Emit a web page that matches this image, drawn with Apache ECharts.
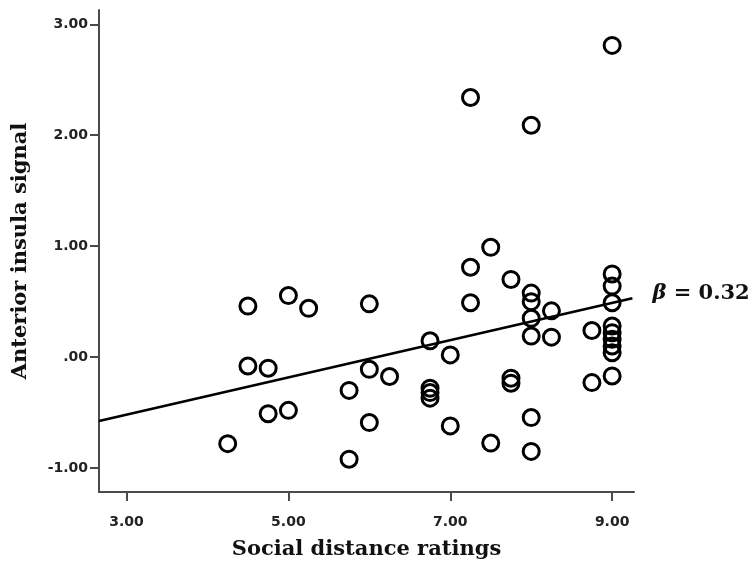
<!DOCTYPE html>
<html>
<head>
<meta charset="utf-8">
<script src="https://cdn.jsdelivr.net/npm/echarts@6/dist/echarts.min.js"></script>
<style>
  html, body { margin: 0; padding: 0; background: #fff; }
  #chart { width: 750px; height: 563px; }
</style>
</head>
<body>
<div id="chart"></div>
<script>
// data
var socialDistance = [4.25, 4.5, 4.5, 4.75, 4.75, 5.0, 5.0, 5.25, 5.75, 5.75,
  6.0, 6.0, 6.0, 6.25, 6.75, 6.75, 6.75, 6.75, 7.0, 7.0,
  7.25, 7.25, 7.25, 7.5, 7.5, 7.75, 7.75, 7.75,
  8.0, 8.0, 8.0, 8.0, 8.0, 8.0, 8.0, 8.25, 8.25, 8.75, 8.75,
  9.0, 9.0, 9.0, 9.0, 9.0, 9.0, 9.0, 9.0, 9.0, 9.0];
var insulaSignal = [-0.78, 0.46, -0.08, -0.10, -0.51, 0.555, -0.48, 0.44, -0.30, -0.92,
  0.48, -0.11, -0.59, -0.175, 0.147, -0.28, -0.32, -0.37, 0.02, -0.62,
  2.34, 0.81, 0.49, 0.99, -0.775, 0.70, -0.19, -0.235,
  2.09, 0.577, 0.50, 0.35, 0.19, -0.545, -0.85, 0.417, 0.18, 0.24, -0.23,
  2.81, 0.75, 0.64, 0.49, 0.28, 0.22, 0.16, 0.10, 0.04, -0.17];

var xTicks = [3, 5, 7, 9];
var xTickLabels = ["3.00", "5.00", "7.00", "9.00"];
var yTicks = [-1, 0, 1, 2, 3];
var yTickLabels = ["-1.00", ".00", "1.00", "2.00", "3.00"];

// fit line
var fitSlope = 0.168;
var fitIntercept = -1.023;
var fitRange = [2.66, 9.25];
var betaText = "0.32";

var points = socialDistance.map(function (x, i) { return [x, insulaSignal[i]]; });
var fitLine = fitRange.map(function (x) { return [x, fitIntercept + fitSlope * x]; });

var axisColor = "#4a4a4a";
var chart = echarts.init(document.getElementById("chart"));
chart.setOption({
  animation: false,
  grid: {
    left: 99,
    right: 116,
    top: 10,
    bottom: 71,
    containLabel: false,
    outerBoundsMode: "none"
  },
  xAxis: {
    type: "value",
    min: 2.66,
    max: 9.27,
    name: "Social distance ratings",
    nameLocation: "middle",
    nameGap: 47,
    nameTextStyle: {
      fontFamily: "DejaVu Serif",
      fontWeight: "bold",
      fontSize: 21,
      color: "#111"
    },
    axisLine: { onZero: false, lineStyle: { color: axisColor, width: 2 } },
    axisTick: {
      show: true,
      length: 9,
      customValues: xTicks,
      lineStyle: { color: axisColor, width: 2 }
    },
    axisLabel: {
      customValues: xTicks,
      margin: 23,
      fontFamily: "DejaVu Sans",
      fontWeight: "bold",
      fontSize: 14,
      color: "#222",
      formatter: function (v) { return xTickLabels[xTicks.indexOf(v)]; }
    },
    splitLine: { show: false }
  },
  yAxis: {
    type: "value",
    min: -1.216,
    max: 3.129,
    name: "Anterior insula signal",
    nameLocation: "middle",
    nameGap: 68,
    nameRotate: 90,
    nameTextStyle: {
      fontFamily: "DejaVu Serif",
      fontWeight: "bold",
      fontSize: 21,
      color: "#111"
    },
    axisLine: { show: true, onZero: false, lineStyle: { color: axisColor, width: 2 } },
    axisTick: {
      show: true,
      length: 9,
      customValues: yTicks,
      lineStyle: { color: axisColor, width: 2 }
    },
    axisLabel: {
      customValues: yTicks,
      margin: 11,
      fontFamily: "DejaVu Sans",
      fontWeight: "bold",
      fontSize: 14,
      color: "#222",
      formatter: function (v) { return yTickLabels[yTicks.indexOf(v)]; }
    },
    splitLine: { show: false }
  },
  series: [
    {
      type: "line",
      data: fitLine,
      symbol: "none",
      silent: true,
      lineStyle: { color: "#000", width: 2.5 },
      endLabel: {
        show: true,
        distance: 20,
        offset: [0, -5],
        formatter: "{b|β} = " + betaText,
        fontFamily: "DejaVu Serif",
        fontWeight: "bold",
        fontSize: 21,
        color: "#111",
        rich: {
          b: {
            fontFamily: "DejaVu Serif",
            fontStyle: "italic",
            fontWeight: "bold",
            fontSize: 21,
            color: "#111"
          }
        }
      }
    },
    {
      type: "scatter",
      data: points,
      symbol: "circle",
      symbolSize: 16,
      itemStyle: {
        color: "rgba(0,0,0,0)",
        borderColor: "#000",
        borderWidth: 3,
        opacity: 1
      }
    }
  ]
});
window.addEventListener("resize", function () { chart.resize(); });
</script>
</body>
</html>
